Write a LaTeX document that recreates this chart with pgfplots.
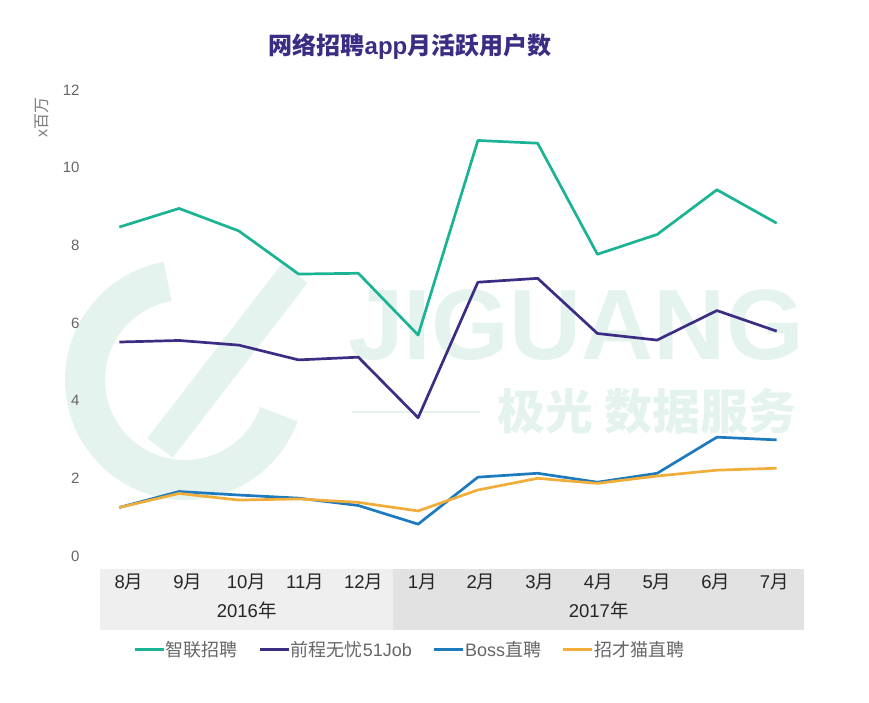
\documentclass[border=0pt]{standalone}
\usepackage{fontspec}
\setmainfont{Liberation Sans}
\newfontfamily\cjk{Noto Sans CJK SC}
\usepackage{pgfplots}
\pgfplotsset{compat=1.18}

\definecolor{zhilian}{HTML}{1AB394}
\definecolor{qiancheng}{HTML}{3D2C84}
\definecolor{boss}{HTML}{1E7ABE}
\definecolor{zhaocai}{HTML}{F0AD3A}
\definecolor{titlecol}{HTML}{3B2D84}
\definecolor{tickgray}{HTML}{666666}
\definecolor{wm}{HTML}{E4F3ED}
\definecolor{bandL}{HTML}{EFEFEF}
\definecolor{bandR}{HTML}{E2E2E2}

\newcommand{\yue}{{\cjk 月}}

\begin{document}
\begin{tikzpicture}
\path[use as bounding box] (0pt,0pt) rectangle (869pt,703pt);

% watermark
\draw[wm, line width=40pt] (185pt,323pt) ++(100:100pt) arc (100:340:100pt);
\draw[wm, line width=32pt] (295pt,430pt) -- (160pt,255pt);
\node[anchor=base west, text=wm, font=\bfseries\fontsize{100}{100}\selectfont, inner sep=0pt] at (348pt,343pt) {JIGUANG};
\node[anchor=base west, text=wm, font=\cjk\bfseries\fontsize{48}{48}\selectfont, inner sep=0pt] at (497pt,273pt) {极光\ 数据服务};
\draw[wm, line width=2pt] (352pt,291pt) -- (480pt,291pt);

% category band
\fill[bandL] (100pt,73pt) rectangle (393.3pt,134pt);
\fill[bandR] (393.3pt,73pt) rectangle (804pt,134pt);

\begin{axis}[
  at={(100pt,147pt)}, anchor=south west,
  scale only axis, width=704pt, height=466pt,
  xmin=-0.323, xmax=11.457, ymin=0, ymax=12,
  ytick={0,2,...,12},
  xtick={0.162,1.144,2.126,3.107,4.089,5.071,6.052,7.034,8.016,8.998,9.979,10.961},
  xticklabels={8\yue,9\yue,10\yue,11\yue,12\yue,1\yue,2\yue,3\yue,4\yue,5\yue,6\yue,7\yue},
  axis line style={draw=none}, tick style={draw=none},
  /pgf/number format/assume math mode=true,
  yticklabel style={font=\fontsize{15}{15}\selectfont, text=tickgray, xshift=-17pt},
  xticklabel style={font=\fontsize{18.5}{20}\selectfont, text=black!85, anchor=center, yshift=-26pt},
  clip=false,
  legend columns=4,
  legend style={draw=none, fill=none, at={(0.043,-0.2017)}, anchor=west,
    font=\fontsize{18}{20}\selectfont, text=tickgray,
    nodes={inner sep=0.5pt},
    /tikz/every even column/.append style={column sep=20pt}},
  legend image code/.code={\draw[#1, line width=3pt] (0pt,0pt) -- (29pt,0pt);},
  every axis plot/.append style={line width=2.7pt, line join=round, mark=none},
]
\addplot[zhilian] coordinates {
  (0,8.47) (1,8.95) (2,8.37) (3,7.26) (4,7.28) (5,5.69)
  (6,10.70) (7,10.63) (8,7.77) (9,8.28) (10,9.43) (11,8.57)};
\addlegendentry{{\cjk 智联招聘}}
\addplot[qiancheng] coordinates {
  (0,5.51) (1,5.55) (2,5.43) (3,5.05) (4,5.12) (5,3.56)
  (6,7.05) (7,7.15) (8,5.73) (9,5.56) (10,6.32) (11,5.79)};
\addlegendentry{{\cjk 前程无忧}51Job}
\addplot[boss] coordinates {
  (0,1.25) (1,1.66) (2,1.57) (3,1.49) (4,1.30) (5,0.82)
  (6,2.03) (7,2.13) (8,1.90) (9,2.13) (10,3.06) (11,2.99)};
\addlegendentry{Boss{\cjk 直聘}}
\addplot[zhaocai] coordinates {
  (0,1.25) (1,1.61) (2,1.44) (3,1.47) (4,1.38) (5,1.16)
  (6,1.70) (7,2.00) (8,1.87) (9,2.06) (10,2.21) (11,2.26)};
\addlegendentry{{\cjk 招才猫直聘}}
\end{axis}

\node[font=\fontsize{18.5}{20}\selectfont, text=black!85] at (246.7pt,93pt) {2016{\cjk 年}};
\node[font=\fontsize{18.5}{20}\selectfont, text=black!85] at (598.7pt,93pt) {2017{\cjk 年}};
\node[rotate=90, font=\fontsize{16}{16}\selectfont, text=tickgray!85] at (41.7pt,585pt) {x{\cjk 百万}};
\node[font=\bfseries\fontsize{24}{26}\selectfont, text=titlecol] at (410pt,656pt) {{\cjk 网络招聘}app{\cjk 月活跃用户数}};
\end{tikzpicture}
\end{document}
